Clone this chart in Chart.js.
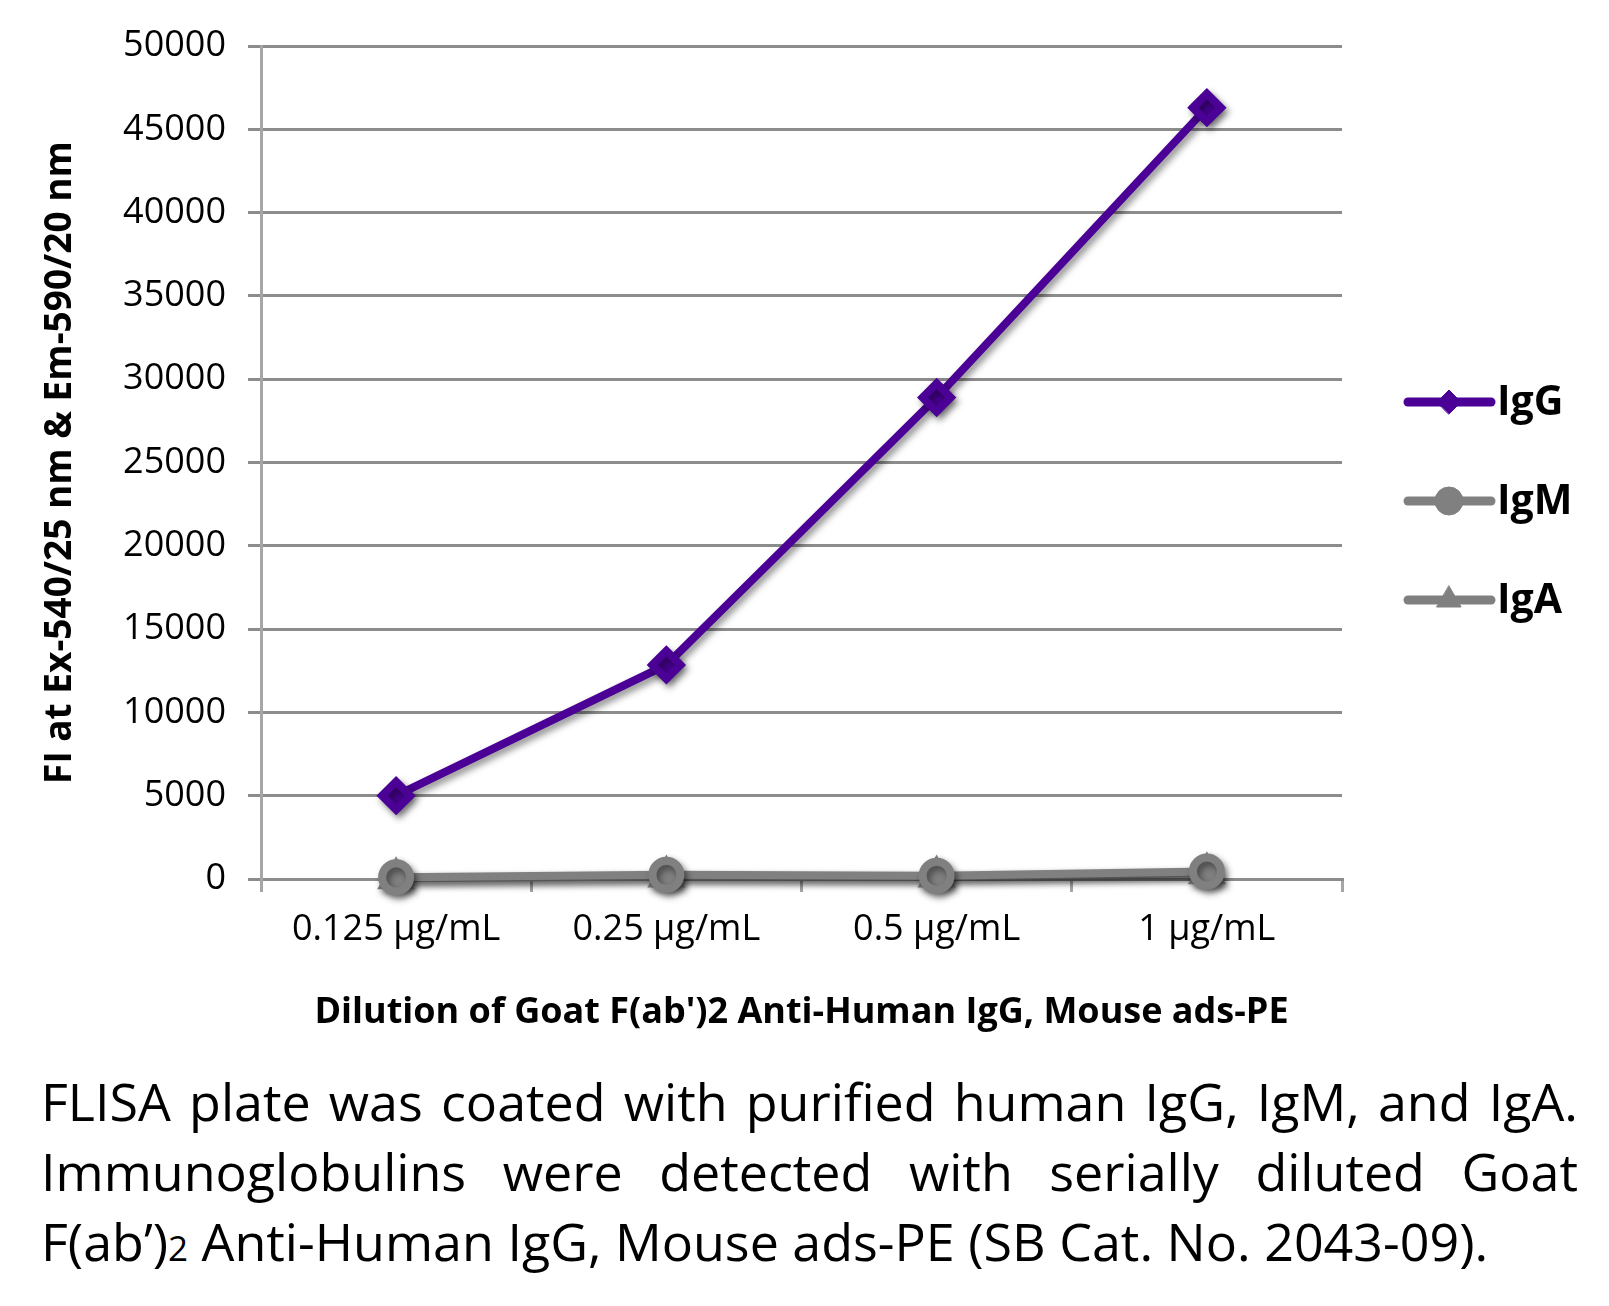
<!DOCTYPE html>
<html>
<head>
<meta charset="utf-8">
<script src="https://cdn.jsdelivr.net/npm/chart.js@4/dist/chart.umd.min.js"></script>
<style>
  html, body { margin: 0; padding: 0; background: #fff; }
  body { width: 1609px; height: 1306px; overflow: hidden; font-family: 'Open Sans', sans-serif; }
  #wrap { position: relative; width: 1609px; height: 1040px; }
  #caption { position: absolute; left: 41px; top: 1066px; width: 1537px; font-size: 52px; line-height: 70px; color: #000; }
  #caption div { white-space: nowrap; }
  #caption .j { text-align: justify; text-align-last: justify; white-space: normal; }
</style>
</head>
<body>
<div id="wrap"><canvas id="elisaChart"></canvas></div>
<div id="caption">
  <div class="j">FLISA plate was coated with purified human IgG, IgM, and IgA.</div>
  <div class="j">Immunoglobulins were detected with serially diluted Goat</div>
  <div>F(ab’)<span style="font-size:35px">2</span> Anti-Human IgG, Mouse ads-PE (SB Cat. No. 2043-09).</div>
</div>
<script>
const dilutions = ['0.125 µg/mL', '0.25 µg/mL', '0.5 µg/mL', '1 µg/mL'];
const iggValues = [5000, 12850, 28900, 46300];
const igmValues = [100, 250, 200, 450];
const igaValues = [50, 150, 150, 350];
const yTicks = [0, 5000, 10000, 15000, 20000, 25000, 30000, 35000, 40000, 45000, 50000];

const purple = '#4b0096';
const gray = '#808080';

// soft drop shadow under lines and markers
const shadowPlugin = {
    id: 'shadow',
    beforeDatasetsDraw(chart) {
        const ctx = chart.ctx;
        ctx.save();
        ctx.shadowColor = 'rgba(0,0,0,0.45)';
        ctx.shadowBlur = 7;
        ctx.shadowOffsetX = 3;
        ctx.shadowOffsetY = 4;
    },
    afterDatasetsDraw(chart) {
        chart.ctx.restore();
    }
};

// legend on the right: line + marker + bold label
const sideLegend = {
    id: 'sideLegend',
    afterDraw(chart) {
        const ctx = chart.ctx;
        const rows = [402, 501, 600];
        chart.data.datasets.forEach((ds, i) => {
            const y = rows[i];
            ctx.save();
            ctx.strokeStyle = ds.borderColor;
            ctx.lineWidth = 9;
            ctx.lineCap = 'round';
            ctx.beginPath();
            ctx.moveTo(1408, y);
            ctx.lineTo(1491, y);
            ctx.stroke();
            ctx.fillStyle = ds.backgroundColor;
            ctx.strokeStyle = ds.backgroundColor;
            ctx.lineWidth = 1;
            Chart.helpers.drawPoint(ctx, { pointStyle: ds.pointStyle, radius: ds.legendRadius, borderWidth: 1, rotation: 0 }, 1449, y);
            ctx.fillStyle = '#000';
            ctx.font = 'bold 41px "Open Sans"';
            ctx.textBaseline = 'middle';
            ctx.textAlign = 'left';
            ctx.fillText(ds.label, 1497, y + 1);
            ctx.restore();
        });
    }
};

document.addEventListener('DOMContentLoaded', () => {
    const ctx = document.getElementById('elisaChart').getContext('2d');
    new Chart(ctx, {
        type: 'line',
        data: {
            labels: dilutions,
            datasets: [
                { label: 'IgG', data: iggValues, borderColor: purple, backgroundColor: purple,
                  borderWidth: 8, pointStyle: 'rectRot', pointRadius: 14, legendRadius: 12, clip: false },
                { label: 'IgM', data: igmValues, borderColor: gray, backgroundColor: gray,
                  borderWidth: 8, pointStyle: 'circle', pointRadius: 14, legendRadius: 14, clip: false },
                { label: 'IgA', data: igaValues, borderColor: gray, backgroundColor: gray,
                  borderWidth: 8, pointStyle: 'triangle', pointRadius: 14, legendRadius: 14, clip: false }
            ]
        },
        options: {
            responsive: false,
            animation: false,
            devicePixelRatio: 1,
            layout: { padding: { top: 46, right: 267, left: 0, bottom: 0 } },
            elements: { line: { tension: 0 }, point: { hoverRadius: 14 } },
            plugins: { legend: { display: false }, tooltip: { enabled: false } },
            scales: {
                x: {
                    offset: true,
                    grid: { offset: true, drawOnChartArea: false, drawTicks: true, tickLength: 13, color: '#a6a6a6', lineWidth: 3 },
                    border: { color: '#8c8c8c', width: 3 },
                    ticks: { color: '#000', padding: 16, font: { family: 'Open Sans', size: 36 } },
                    title: { display: true, text: "Dilution of Goat F(ab')2 Anti-Human IgG, Mouse ads-PE", color: '#000',
                             font: { family: 'Open Sans', size: 36, weight: 'bold' }, padding: { top: 0, bottom: 6 } },
                    afterFit: (s) => { s.height = 161; }
                },
                y: {
                    min: 0, max: 50000,
                    afterBuildTicks: (s) => { s.ticks = yTicks.map(v => ({ value: v })); },
                    grid: { color: '#8c8c8c', lineWidth: 3, tickLength: 13 },
                    border: { color: '#a6a6a6', width: 3 },
                    ticks: { color: '#000', padding: 22, font: { family: 'Open Sans', size: 36 }, callback: (v) => String(v) },
                    title: { display: true, text: 'FI at Ex-540/25 nm & Em-590/20 nm', color: '#000',
                             font: { family: 'Open Sans', size: 37, weight: 'bold' }, padding: { top: 38, bottom: 0 } },
                    afterFit: (s) => { s.width = 261; }
                }
            }
        },
        plugins: [shadowPlugin, sideLegend]
    });
});
</script>
<script>
  const c = document.getElementById('elisaChart');
  c.width = 1609; c.height = 1040;
  c.style.width = '1609px'; c.style.height = '1040px';
</script>
</body>
</html>
